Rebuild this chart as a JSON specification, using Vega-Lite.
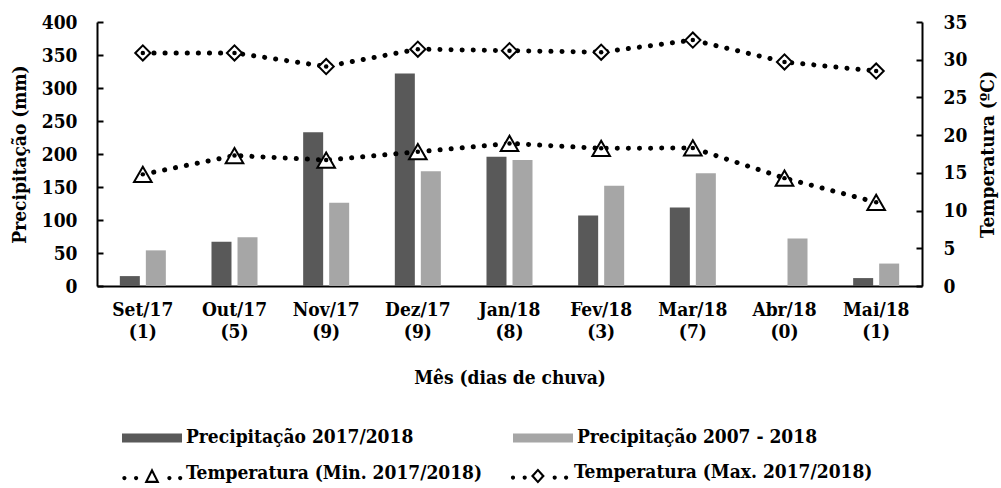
{
  "$schema": "https://vega.github.io/schema/vega-lite/v6.json",
  "width": 825,
  "height": 264,
  "autosize": {"type": "none"},
  "padding": {"left": 97, "top": 22, "right": 79, "bottom": 202},
  "background": "white",
  "config": {
    "font": "DejaVu Serif Condensed",
    "view": {"stroke": null},
    "axis": {
      "labelFont": "DejaVu Serif Condensed",
      "titleFont": "DejaVu Serif Condensed",
      "labelFontSize": 19,
      "titleFontSize": 19,
      "labelFontWeight": "bold",
      "titleFontWeight": "bold",
      "labelColor": "black",
      "titleColor": "black",
      "domainColor": "black",
      "domainWidth": 2,
      "tickColor": "black",
      "tickWidth": 2,
      "grid": false
    },
    "legend": {
      "labelFont": "DejaVu Serif Condensed",
      "labelFontSize": 19,
      "labelFontWeight": "bold",
      "labelColor": "black",
      "labelLimit": 500,
      "padding": 0
    }
  },
  "datasets": {
    "chuva": [
      {"mes": "Set/17|(1)", "serie": "Precipitação 2017/2018", "valor": 15},
      {"mes": "Set/17|(1)", "serie": "Precipitação 2007 - 2018", "valor": 54},
      {"mes": "Out/17|(5)", "serie": "Precipitação 2017/2018", "valor": 67},
      {"mes": "Out/17|(5)", "serie": "Precipitação 2007 - 2018", "valor": 74},
      {"mes": "Nov/17|(9)", "serie": "Precipitação 2017/2018", "valor": 233},
      {"mes": "Nov/17|(9)", "serie": "Precipitação 2007 - 2018", "valor": 126},
      {"mes": "Dez/17|(9)", "serie": "Precipitação 2017/2018", "valor": 322},
      {"mes": "Dez/17|(9)", "serie": "Precipitação 2007 - 2018", "valor": 174},
      {"mes": "Jan/18|(8)", "serie": "Precipitação 2017/2018", "valor": 196},
      {"mes": "Jan/18|(8)", "serie": "Precipitação 2007 - 2018", "valor": 191},
      {"mes": "Fev/18|(3)", "serie": "Precipitação 2017/2018", "valor": 107},
      {"mes": "Fev/18|(3)", "serie": "Precipitação 2007 - 2018", "valor": 152},
      {"mes": "Mar/18|(7)", "serie": "Precipitação 2017/2018", "valor": 119},
      {"mes": "Mar/18|(7)", "serie": "Precipitação 2007 - 2018", "valor": 171},
      {"mes": "Abr/18|(0)", "serie": "Precipitação 2017/2018", "valor": 0},
      {"mes": "Abr/18|(0)", "serie": "Precipitação 2007 - 2018", "valor": 72},
      {"mes": "Mai/18|(1)", "serie": "Precipitação 2017/2018", "valor": 12},
      {"mes": "Mai/18|(1)", "serie": "Precipitação 2007 - 2018", "valor": 34}
    ],
    "temp": [
      {"mes": "Set/17|(1)", "tipo": "Temperatura (Min. 2017/2018)", "temp": 14.8},
      {"mes": "Out/17|(5)", "tipo": "Temperatura (Min. 2017/2018)", "temp": 17.3},
      {"mes": "Nov/17|(9)", "tipo": "Temperatura (Min. 2017/2018)", "temp": 16.7},
      {"mes": "Dez/17|(9)", "tipo": "Temperatura (Min. 2017/2018)", "temp": 17.8},
      {"mes": "Jan/18|(8)", "tipo": "Temperatura (Min. 2017/2018)", "temp": 18.9},
      {"mes": "Fev/18|(3)", "tipo": "Temperatura (Min. 2017/2018)", "temp": 18.25},
      {"mes": "Mar/18|(7)", "tipo": "Temperatura (Min. 2017/2018)", "temp": 18.3},
      {"mes": "Abr/18|(0)", "tipo": "Temperatura (Min. 2017/2018)", "temp": 14.3},
      {"mes": "Mai/18|(1)", "tipo": "Temperatura (Min. 2017/2018)", "temp": 11.1},
      {"mes": "Set/17|(1)", "tipo": "Temperatura (Max. 2017/2018)", "temp": 30.9},
      {"mes": "Out/17|(5)", "tipo": "Temperatura (Max. 2017/2018)", "temp": 30.9},
      {"mes": "Nov/17|(9)", "tipo": "Temperatura (Max. 2017/2018)", "temp": 29.1},
      {"mes": "Dez/17|(9)", "tipo": "Temperatura (Max. 2017/2018)", "temp": 31.4},
      {"mes": "Jan/18|(8)", "tipo": "Temperatura (Max. 2017/2018)", "temp": 31.2},
      {"mes": "Fev/18|(3)", "tipo": "Temperatura (Max. 2017/2018)", "temp": 31.0},
      {"mes": "Mar/18|(7)", "tipo": "Temperatura (Max. 2017/2018)", "temp": 32.6},
      {"mes": "Abr/18|(0)", "tipo": "Temperatura (Max. 2017/2018)", "temp": 29.7},
      {"mes": "Mai/18|(1)", "tipo": "Temperatura (Max. 2017/2018)", "temp": 28.5}
    ]
  },
  "layer": [
    {
      "data": {"name": "chuva"},
      "mark": {"type": "bar"},
      "encoding": {
        "x": {
          "field": "mes",
          "type": "nominal",
          "scale": {
            "domain": ["Set/17|(1)", "Out/17|(5)", "Nov/17|(9)", "Dez/17|(9)", "Jan/18|(8)", "Fev/18|(3)", "Mar/18|(7)", "Abr/18|(0)", "Mai/18|(1)"],
            "paddingInner": 0.498,
            "paddingOuter": 0.249
          },
          "axis": {
            "orient": "bottom",
            "title": "Mês (dias de chuva)",
            "labelExpr": "split(datum.label, '|')",
            "labelAngle": 0,
            "ticks": false,
            "labelPadding": 14,
            "labelLineHeight": 22,
            "titlePadding": 27
          }
        },
        "xOffset": {
          "field": "serie",
          "type": "nominal",
          "scale": {
            "domain": ["Precipitação 2017/2018", "Precipitação 2007 - 2018"],
            "paddingInner": 0.231,
            "paddingOuter": 0
          }
        },
        "y": {
          "field": "valor",
          "type": "quantitative",
          "scale": {"domain": [0, 400]},
          "axis": {
            "orient": "left",
            "title": "Precipitação (mm)",
            "values": [0, 50, 100, 150, 200, 250, 300, 350, 400],
            "tickSize": -6,
            "labelPadding": 26,
            "titlePadding": 12
          }
        },
        "color": {
          "field": "serie",
          "type": "nominal",
          "scale": {
            "domain": ["Precipitação 2017/2018", "Precipitação 2007 - 2018"],
            "range": ["#595959", "#a6a6a6"]
          },
          "legend": {
            "orient": "none",
            "legendX": 25,
            "legendY": 385,
            "direction": "horizontal",
            "title": null,
            "symbolType": "M-1,-0.12H1V0.18H-1Z",
            "symbolSize": 3600,
            "symbolStrokeWidth": 0,
            "symbolOpacity": 1,
            "labelOffset": 4,
            "columnPadding": 99
          }
        }
      }
    },
    {
      "data": {"name": "temp"},
      "encoding": {
        "x": {"field": "mes", "type": "nominal"},
        "y": {
          "field": "temp",
          "type": "quantitative",
          "scale": {"domain": [0, 35]},
          "axis": {
            "orient": "right",
            "title": "Temperatura (ºC)",
            "values": [0, 5, 10, 15, 20, 25, 30, 35],
            "tickSize": -6,
            "labelPadding": 27,
            "titleAngle": 270,
            "titleBaseline": "top",
            "titlePadding": 12
          }
        }
      },
      "layer": [
        {
          "mark": {"type": "line", "stroke": "black", "strokeWidth": 5, "strokeCap": "round", "strokeDash": [0.1, 11]},
          "encoding": {
            "detail": {"field": "tipo", "type": "nominal"},
            "order": {"value": null}
          }
        },
        {
          "transform": [{"filter": "datum.tipo === 'Temperatura (Min. 2017/2018)'"}],
          "mark": {"type": "point", "shape": "triangle-up", "filled": true, "fill": "white", "stroke": "black", "strokeWidth": 2, "opacity": 1, "size": 310}
        },
        {
          "transform": [{"filter": "datum.tipo === 'Temperatura (Max. 2017/2018)'"}],
          "mark": {"type": "point", "shape": "diamond", "filled": true, "fill": "white", "stroke": "black", "strokeWidth": 2, "opacity": 1, "size": 230}
        },
        {
          "mark": {"type": "circle", "size": 20, "color": "black", "opacity": 1}
        },
        {
          "mark": {"type": "point", "filled": true, "color": "black", "opacity": 1, "size": 0, "strokeWidth": 0},
          "encoding": {
            "shape": {
              "field": "tipo",
              "type": "nominal",
              "scale": {
                "domain": ["Temperatura (Min. 2017/2018)", "Temperatura (Max. 2017/2018)"],
                "range": [
                  "M0,-0.17L0.25,0.33L-0.25,0.33Z M0,-0.01L-0.137,0.26L0.137,0.26Z M-0.99,0.17a0.07,0.07 0 1,0 0.14,0a0.07,0.07 0 1,0 -0.14,0Z M-0.6,0.17a0.07,0.07 0 1,0 0.14,0a0.07,0.07 0 1,0 -0.14,0Z M0.51,0.17a0.07,0.07 0 1,0 0.14,0a0.07,0.07 0 1,0 -0.14,0Z M0.87,0.17a0.07,0.07 0 1,0 0.14,0a0.07,0.07 0 1,0 -0.14,0Z",
                  "M-0.07,-0.13L0.16,0.12L-0.07,0.37L-0.3,0.12Z M-0.07,-0.03L-0.2,0.12L-0.07,0.27L0.06,0.12Z M-0.97,0.17a0.07,0.07 0 1,0 0.14,0a0.07,0.07 0 1,0 -0.14,0Z M-0.58,0.17a0.07,0.07 0 1,0 0.14,0a0.07,0.07 0 1,0 -0.14,0Z M0.42,0.17a0.07,0.07 0 1,0 0.14,0a0.07,0.07 0 1,0 -0.14,0Z M0.8,0.17a0.07,0.07 0 1,0 0.14,0a0.07,0.07 0 1,0 -0.14,0Z"
                ]
              },
              "legend": {
                "orient": "none",
                "legendX": 25,
                "legendY": 420,
                "direction": "horizontal",
                "title": null,
                "symbolSize": 3600,
                "symbolStrokeWidth": 0,
                "symbolFillColor": "black",
                "symbolOpacity": 1,
                "labelOffset": 4,
                "columnPadding": 27
              }
            }
          }
        }
      ]
    }
  ],
  "resolve": {"scale": {"y": "independent"}}
}
